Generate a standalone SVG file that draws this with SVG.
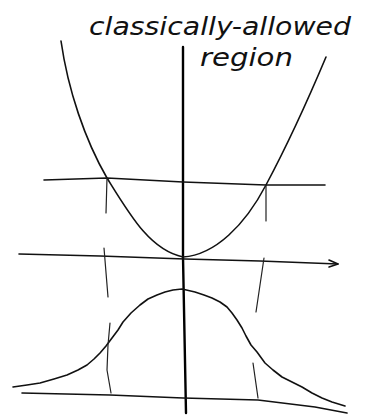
<svg xmlns="http://www.w3.org/2000/svg" width="365" height="417" viewBox="0 0 365 417">
<style>
.ln{fill:none;stroke:#111;stroke-width:1.6;stroke-linecap:round;stroke-linejoin:round}
.thin{fill:none;stroke:#222;stroke-width:1.2;stroke-linecap:round;stroke-linejoin:round}
.ax{fill:none;stroke:#000;stroke-width:2.4;stroke-linecap:round}
.t{font-family:"DejaVu Sans","Liberation Sans",sans-serif;font-style:italic;fill:#111}
</style>
<rect width="365" height="417" fill="#fff"/>
<g id="label">
<text class="t" x="89" y="35" font-size="24" textLength="262" lengthAdjust="spacingAndGlyphs">classically-allowed</text>
<text class="t" x="200" y="66" font-size="24" textLength="93" lengthAdjust="spacingAndGlyphs">region</text>
</g>
<g id="axes">
<path class="ax" d="M183,47 L183,180 L183,257 L186,413"/>
<path class="ln" d="M19,254 L100,256 L185,259 L260,261 L338,264"/>
<path class="ln" d="M329,260 L338,264 L329,267"/>
<path class="ln" d="M44,180 L107,178 L183,182 L266,185 L325,185"/>
<path class="ln" d="M22,393 L110,395 L183,398 L258,400 L315,407 L347,413"/>
</g>
<g id="potential">
<path class="ln" d="M61,41 C68,90 85,140 107,178 C130,215 150,250 183,257 C215,255 245,225 266,185 C290,140 310,95 326,57"/>
</g>
<g id="wavefunction">
<polyline class="ln" points="13,387 27,385 40,383 54,379 67,375 78,370 87,365 94,359 100,353 106,346 112,338 118,330 123,322 131,313 140,305 148,299 157,295 165,292 173,290 182,289 195,292 204,295 212,298 220,302 227,307 232,313 237,320 242,328 246,336 251,345 257,352 265,363 273,370 282,377 292,382 302,387 312,393 322,398 332,402 345,406"/>
</g>
<g id="turning-points">
<path class="thin" d="M107,178 L106,213 M104,248 L108,297 M110,323 L108,345 L107,370 L111,393"/>
<path class="thin" d="M266,185 L266,221 M264,258 L256,312 M253,363 L258,398"/>
</g>
</svg>
